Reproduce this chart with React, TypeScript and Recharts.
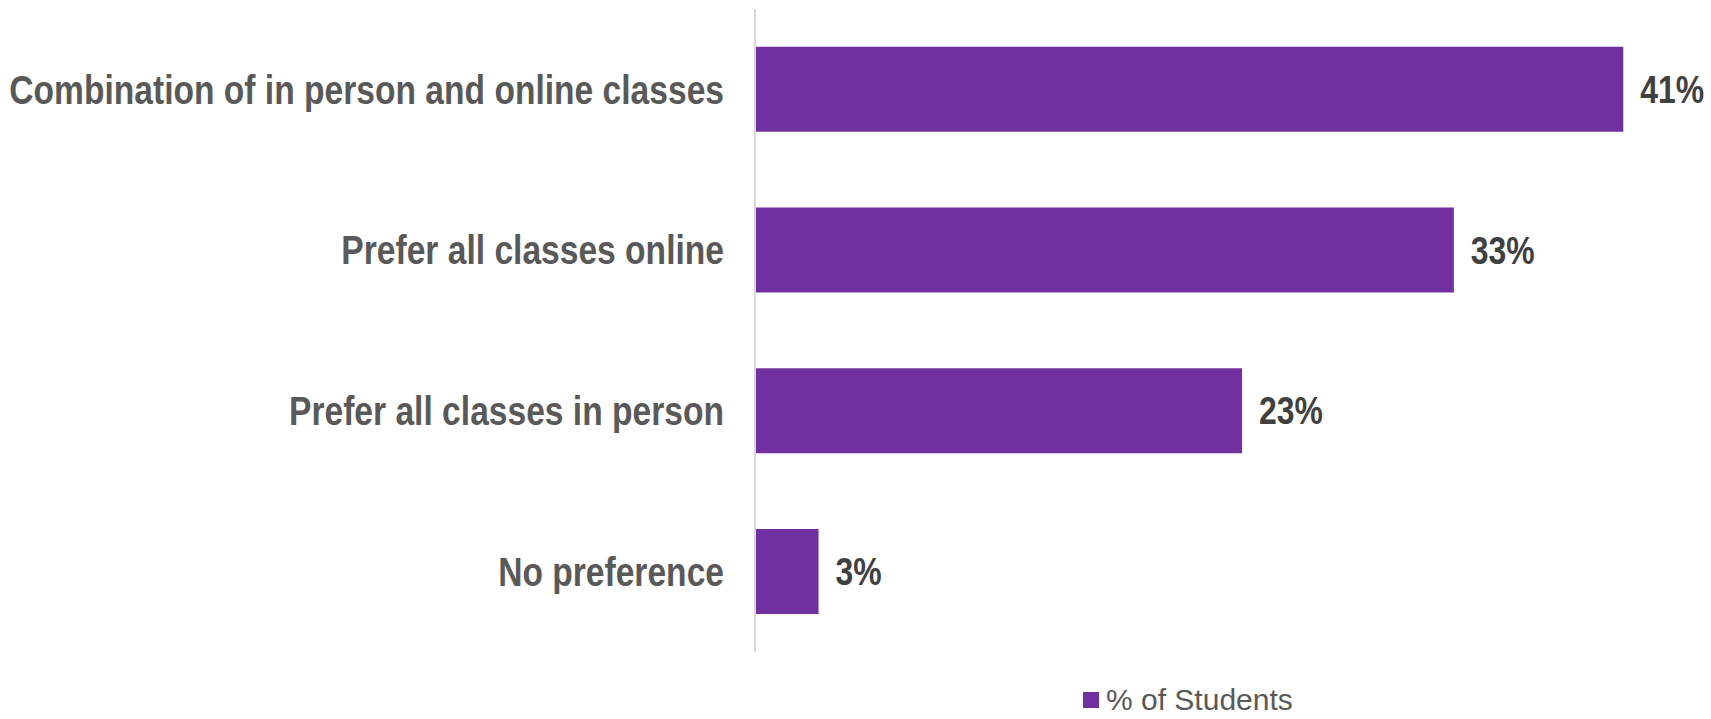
import React from 'react'
import { Bar, BarChart, LabelList, XAxis, YAxis } from 'recharts'

const categories = [
  'Combination of in person and online classes',
  'Prefer all classes online',
  'Prefer all classes in person',
  'No preference',
]
const studentShare = [41, 33, 23, 3]
const SERIES_NAME = '% of Students'

const data = categories.map((name, i) => ({ name, value: studentShare[i] }))

const PURPLE = '#7030A0'
const FONT = "'Liberation Sans', Arial, sans-serif"
// Arial Narrow look: squeeze Arial bold horizontally
const NARROW_SCALE = 0.84

function CategoryTick(props: any) {
  const { x, y, payload } = props
  return (
    <text
      transform={`translate(${x},${y}) scale(${NARROW_SCALE},1)`}
      textAnchor="end"
      dy="0.355em"
      fontFamily={FONT}
      fontWeight={700}
      fontSize={40}
      fill="#595959"
    >
      {payload.value}
    </text>
  )
}

function ValueLabel(props: any) {
  const { x, y, width, height, value } = props
  const tx = x + width + 17
  const ty = y + height / 2
  return (
    <text
      transform={`translate(${tx},${ty}) scale(${NARROW_SCALE},1)`}
      textAnchor="start"
      dy="0.355em"
      fontFamily={FONT}
      fontWeight={700}
      fontSize={38}
      fill="#404040"
    >
      {`${value}%`}
    </text>
  )
}

export default function App() {
  return (
    <div style={{ position: 'relative', width: 1711, height: 719, background: '#fff', overflow: 'hidden' }}>
      <style>{'body{margin:0}'}</style>
      <BarChart
        width={1711}
        height={719}
        data={data}
        layout="vertical"
        barCategoryGap="23.5%"
        margin={{ top: 9, right: 3, bottom: 67, left: 0 }}
      >
        <XAxis type="number" domain={[0, 45]} hide />
        <YAxis
          type="category"
          dataKey="name"
          width={755}
          tickLine={false}
          tickMargin={25}
          axisLine={{ stroke: '#d9d9d9', strokeWidth: 2 }}
          tick={<CategoryTick />}
        />
        <Bar dataKey="value" name={SERIES_NAME} fill={PURPLE} isAnimationActive={false}>
          <LabelList dataKey="value" content={<ValueLabel />} />
        </Bar>
      </BarChart>
      <div
        style={{
          position: 'absolute',
          left: 1083,
          top: 684,
          height: 32,
          lineHeight: '32px',
          display: 'flex',
          alignItems: 'center',
          fontFamily: FONT,
          fontSize: 30,
          color: '#595959',
          whiteSpace: 'nowrap',
        }}
      >
        <span style={{ width: 16, height: 16, background: PURPLE, marginRight: 7 }} />
        <span>{SERIES_NAME}</span>
      </div>
    </div>
  )
}
